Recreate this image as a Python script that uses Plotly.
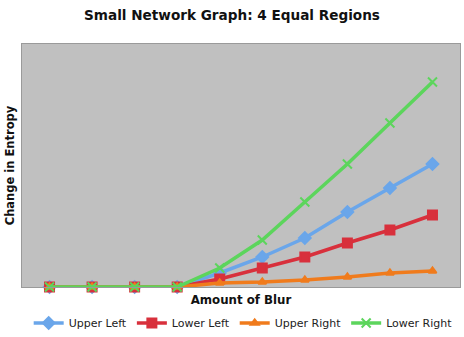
import plotly.graph_objects as go

blur_levels = [1, 2, 3, 4, 5, 6, 7, 8, 9, 10]
upper_left = [0, 0, 0, 0, 14, 30, 49, 75, 99, 123]
lower_left = [0, 0, 0, 0, 8, 19, 30, 44, 57, 72]
upper_right = [0, 0, 0, 0, 4, 5, 7, 10, 14, 16]
lower_right = [0, 0, 0, 0, 19, 47, 85, 123, 164, 205]

series = [
    ("Upper Left", upper_left, "#6aa6ea", "diamond", 9),
    ("Lower Left", lower_left, "#d8303c", "square", 9),
    ("Upper Right", upper_right, "#f07b1c", "triangle-up", 7),
    ("Lower Right", lower_right, "#5cd55c", "x-thin", 9),
]

fig = go.Figure()
for name, vals, color, sym, size in series:
    fig.add_trace(go.Scatter(
        x=[str(v) for v in blur_levels], y=vals, name=name, mode="lines+markers",
        line=dict(color=color, width=3.5),
        marker=dict(symbol=sym, size=size, color=color,
                    line=dict(color=color, width=2)),
        cliponaxis=False,
    ))

fig.update_layout(
    width=464, height=337,
    margin=dict(l=22, r=4, t=44, b=50, autoexpand=False),
    paper_bgcolor="white", plot_bgcolor="#c0c0c0",
    font=dict(family="DejaVu Sans", color="#111"),
    title=dict(text="<b>Small Network Graph: 4 Equal Regions</b>",
               x=0.5, xanchor="center", y=1 - 15 / 337, yanchor="middle",
               font=dict(size=13.6, color="#111")),
    showlegend=True,
    legend=dict(orientation="h", x=0.505, xanchor="center", y=-36 / 243, yanchor="middle",
                font=dict(size=11, color="#222"), itemwidth=30,
                tracegroupgap=0, bgcolor="rgba(0,0,0,0)"),
    xaxis=dict(type="category", showticklabels=False, ticks="", showgrid=False,
               zeroline=False, showline=True, linecolor="#9a9a9a", linewidth=1,
               mirror=True, automargin=False,
               title=dict(text="<b>Amount of Blur</b>", standoff=8,
                          font=dict(size=11.8, color="#111"))),
    yaxis=dict(range=[0, 243], showticklabels=False, ticks="", showgrid=False,
               zeroline=False, showline=True, linecolor="#9a9a9a", linewidth=1,
               mirror=True, automargin=False,
               title=dict(text="<b>Change in Entropy</b>", standoff=3,
                          font=dict(size=11.5, color="#111"))),
)

fig.write_html("out.html")
